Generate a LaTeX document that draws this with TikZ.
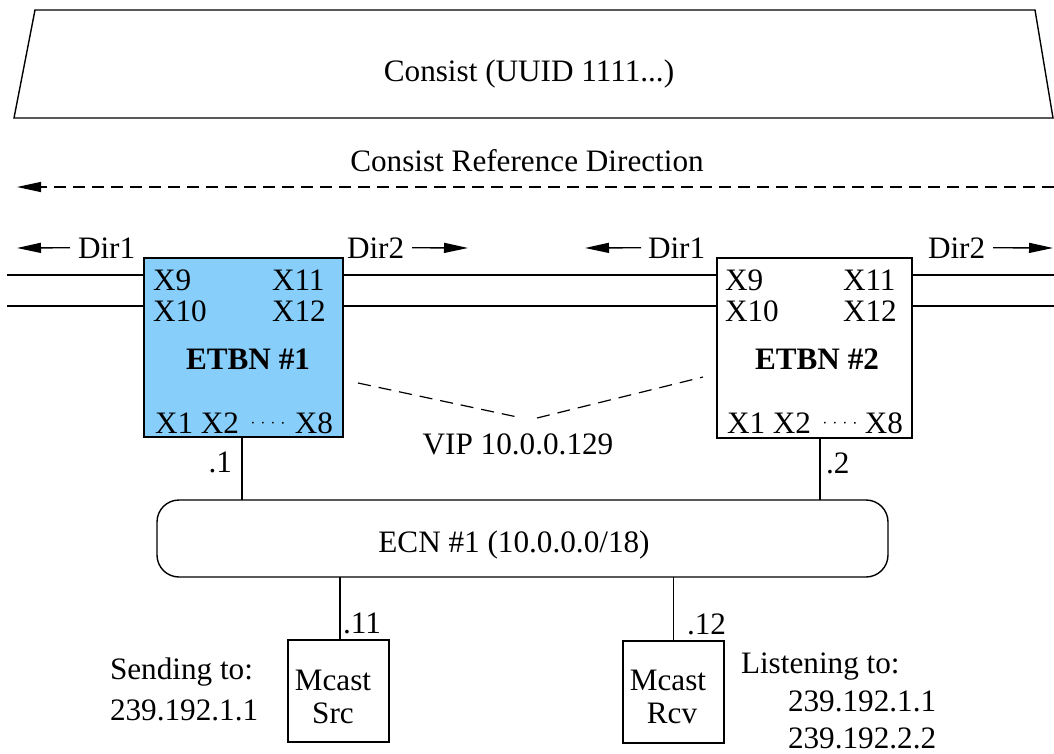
\documentclass[tikz,border=0pt]{standalone}
\usepackage{fontspec}
\setmainfont{Liberation Serif}
\usetikzlibrary{arrows.meta}
\definecolor{etbnblue}{RGB}{135,206,250}
\begin{document}
\begin{tikzpicture}[x=1pt,y=-1pt,
  line width=1.4pt,
  every node/.style={font=\fontsize{31.2}{33}\selectfont, inner sep=0pt, outer sep=0pt},
  lbl/.style={anchor=base west},
  clbl/.style={anchor=base},
  rlbl/.style={anchor=base east},
  arr/.style={-{Triangle[length=24pt,width=10pt]}},
  vipdash/.style={line width=1.2pt, dash pattern=on 13pt off 8pt},
  portdots/.style={line width=1.5pt, dash pattern=on 1.5pt off 8.5pt},
  etbn/.style={draw, anchor=north west, minimum width=#1, minimum height=180pt},
  mbox/.style={draw, anchor=north west, minimum width=101pt, minimum height=102pt},
  ecnbox/.style={draw, rounded corners=22pt, anchor=north west, minimum width=731pt, minimum height=77pt}
  ]
\useasboundingbox (0,0) rectangle (1054,754);

% consist trapezoid
\coordinate (tl) at (35,10);
\coordinate (tr) at (1035,10);
\coordinate (br) at (1053,118);
\coordinate (bl) at (14,118);
\draw (tl) -- (tr) -- (br) -- (bl) -- cycle;
\node[clbl] (consist) at (529,82) {Consist (UUID 1111...)};

% reference direction
\node[clbl] (crd) at (527,172) {Consist Reference Direction};
\coordinate (crdR) at (1054,187);
\coordinate (crdL) at (17,187);
\draw[arr, line width=1.2pt, dash pattern=on 12pt off 7pt] (crdR) -- (crdL);

% rails
\coordinate (r1L) at (7,275);
\coordinate (r1R) at (1054,275);
\coordinate (r2L) at (7,306);
\coordinate (r2R) at (1054,306);
\draw (r1L) -- (r1R);
\draw (r2L) -- (r2R);

% direction labels
\node[lbl] (d1a) at (78,258) {Dir1};
\node[lbl] (d2a) at (347,258) {Dir2};
\node[lbl] (d1b) at (648,258) {Dir1};
\node[lbl] (d2b) at (928,258) {Dir2};
\coordinate (d1aE) at (17,248);
\coordinate (d2aE) at (468,248);
\coordinate (d1bE) at (585,248);
\coordinate (d2bE) at (1053,248);
\draw[arr] ([xshift=-8pt]d1a.west) -- (d1aE);
\draw[arr] ([xshift=8pt]d2a.east) -- (d2aE);
\draw[arr] ([xshift=-7pt]d1b.west) -- (d1bE);
\draw[arr] ([xshift=8pt]d2b.east) -- (d2bE);

% ETBN boxes
\node[etbn=199pt, fill=etbnblue, minimum height=179pt] (e1) at (144,258) {};
\node[etbn=195pt, fill=white] (e2) at (717,258) {};

\node[lbl] (e1x9) at (153,290) {X9};
\node[lbl] (e1x11) at (272,290) {X11};
\node[lbl] (e1x10) at (153,321) {X10};
\node[lbl] (e1x12) at (272,321) {X12};
\node[clbl, font=\fontsize{31.2}{33}\selectfont\bfseries] (e1n) at (248,369) {ETBN \#1};
\node[lbl] (e1p) at (155,433) {X1 X2};
\node[rlbl] (e1x8) at (333,433) {X8};
\draw[portdots] ([xshift=13pt]e1p.east) -- ([xshift=-9pt]e1x8.west);

\node[lbl] (e2x9) at (725,290) {X9};
\node[lbl] (e2x11) at (843,290) {X11};
\node[lbl] (e2x10) at (725,321) {X10};
\node[lbl] (e2x12) at (843,321) {X12};
\node[clbl, font=\fontsize{31.2}{33}\selectfont\bfseries] (e2n) at (817,369) {ETBN \#2};
\node[lbl] (e2p) at (727,433) {X1 X2};
\node[rlbl] (e2x8) at (903,433) {X8};
\draw[portdots] ([xshift=13pt]e2p.east) -- ([xshift=-9pt]e2x8.west);

% VIP
\coordinate (v1a) at (358,383);
\coordinate (v1b) at (522,418);
\coordinate (v2a) at (537,418);
\coordinate (v2b) at (703,377);
\draw[vipdash] (v1a) -- (v1b);
\draw[vipdash] (v2a) -- (v2b);
\node[clbl] (vip) at (518,454) {VIP 10.0.0.129};

% ECN
\node[ecnbox] (ecn) at (157,500) {};
\node[clbl] (ecnt) at (514,552) {ECN \#1 (10.0.0.0/18)};

\draw ([xshift=-1.5pt]e1.south) -- ([xshift=-1.5pt]e1.south |- ecn.north);
\draw ([xshift=5.5pt]e2.south) -- ([xshift=5.5pt]e2.south |- ecn.north);
\node[rlbl] (a1) at (232,472) {.1};
\node[lbl] (a2) at (826,473) {.2};

% Mcast boxes
\node[mbox] (src) at (288,640) {};
\node[mbox] (rcv) at (623,641) {};
\node[clbl] (srct1) at (333,690) {Mcast};
\node[clbl] (srct2) at (333,723) {Src};
\node[clbl] (rcvt1) at (668,690) {Mcast};
\node[clbl] (rcvt2) at (672,723) {Rcv};

\draw ([xshift=1.5pt]src.north) -- ([xshift=1.5pt]src.north |- ecn.south);
\draw (rcv.north) -- (rcv.north |- ecn.south);
\node[lbl] (a11) at (343,633) {.11};
\node[lbl] (a12) at (687,634) {.12};

\node[lbl] (snd1) at (110,679) {Sending to:};
\node[lbl] (snd2) at (110,720) {239.192.1.1};
\node[lbl] (lst1) at (741,673) {Listening to:};
\node[lbl] (lst2) at (788,711) {239.192.1.1};
\node[lbl] (lst3) at (788,748) {239.192.2.2};
\end{tikzpicture}
\end{document}
